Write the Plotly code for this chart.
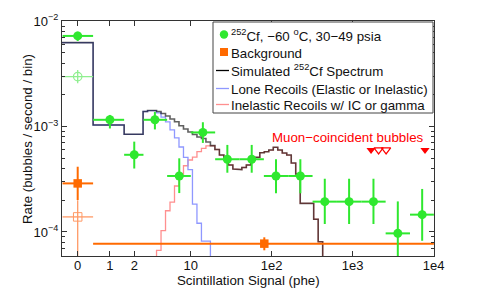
import numpy as np
import plotly.graph_objects as go

# ---------------- data ----------------
ZERO_X = 0.40  # position on the log axis where the "0 phe" bin is drawn

# 252Cf, -60 C, 30-49 psia (filled green)
cf_x = [0, 1, 2, 3.6, 7.2, 14.1, 28.3, 56.6, 113, 226, 453, 905, 1810, 3620, 7240]
cf_lo = [0.26, 0.62, 1.5, 2.6, 5.1, 10, 20, 40, 80, 160, 320, 640, 1280, 2560, 5120]
cf_hi = [0.62, 1.5, 2.6, 5.1, 10, 20, 40, 80, 160, 320, 640, 1280, 2560, 5120, 10100]
cf_rate = [7.25e-3, 1.16e-3, 5.4e-4, 1.16e-3, 3.4e-4, 8.8e-4, 4.9e-4, 4.9e-4,
           3.4e-4, 3.4e-4, 1.94e-4, 1.94e-4, 1.94e-4, 9.7e-5, 1.46e-4]
cf_up = [7.96e-3, 1.29e-3, 7.2e-4, 1.38e-3, 5.0e-4, 1.1e-3, 6.7e-4, 6.7e-4,
         4.9e-4, 4.9e-4, 3.2e-4, 3.2e-4, 3.2e-4, 1.95e-4, 2.56e-4]
cf_dn = [6.5e-3, 9.6e-4, 4.0e-4, 9.4e-4, 2.34e-4, 7.0e-4, 3.65e-4, 3.65e-4,
         2.33e-4, 2.33e-4, 1.19e-4, 1.19e-4, 1.19e-4, 1e-5, 8.25e-5]

# open green point (zero bin)
cf0_rate, cf0_up, cf0_dn = 2.98e-3, 3.45e-3, 2.58e-3

# background (orange)
bg0_rate, bg0_up, bg0_dn = 2.89e-4, 4.16e-4, 2.01e-4
bg0o_rate, bg0o_up, bg0o_dn = 1.39e-4, 2.0e-4, 5e-5
bg_x, bg_lo, bg_hi = 81, 0.62, 10100
bg_rate, bg_up, bg_dn = 7.75e-5, 8.9e-5, 6.7e-5

# muon-coincident bubbles
muon_filled_x = [1690, 7850]
muon_open_x = [2094, 2593]
muon_y = 6.0e-4

# simulated spectra (step histograms)
sim_edges = [0.2, 0.62, 1.5] + list(np.logspace(0.41, 2.63, 41))
sim_total = [6.26e-3, 1.035e-3, 8.45e-4,
             1.39e-3, 1.42e-3, 1.42e-3, 1.39e-3, 1.33e-3, 1.26e-3, 1.18e-3, 1.11e-3, 1.02e-3, 9.5e-4,
             8.9e-4, 8.4e-4, 7.96e-4, 7.7e-4, 7.14e-4, 6.6e-4, 6.06e-4, 5.37e-4, 4.89e-4, 4.32e-4,
             3.96e-4, 3.91e-4, 4.09e-4, 4.32e-4, 4.89e-4, 5.11e-4, 5.65e-4, 5.78e-4, 5.99e-4, 6.36e-4,
             5.99e-4, 5.61e-4, 5.37e-4, 4.51e-4, 3.55e-4, 1.87e-4, 1.87e-4, 1.87e-4, 1.32e-4, 8.07e-5]
sim_lone = [6.26e-3, 1.035e-3, 8.45e-4,
            1.39e-3, 1.42e-3, 1.42e-3, 1.35e-3, 1.23e-3, 1.11e-3, 9.3e-4, 7.8e-4, 6.4e-4, 5.1e-4,
            3.9e-4, 1.84e-4, 1.21e-4, 8.2e-5, 8.2e-5, 0, 0, 0, 0, 0,
            0, 0, 0, 0, 0, 0, 0, 0, 0, 0,
            0, 0, 0, 0, 0, 0, 0, 0, 0, 0]
sim_inel = [0, 0, 0,
            0, 0, 0, 6.7e-5, 1.03e-4, 1.59e-4, 1.92e-4, 2.73e-4, 3.55e-4, 4.25e-4,
            4.82e-4, 5.14e-4, 5.78e-4, 6.22e-4, 6.57e-4, 6.6e-4, 6.06e-4, 5.37e-4, 4.89e-4, 4.32e-4,
            3.96e-4, 3.91e-4, 4.09e-4, 4.32e-4, 4.89e-4, 5.11e-4, 5.65e-4, 5.78e-4, 5.99e-4, 6.36e-4,
            5.99e-4, 5.61e-4, 5.37e-4, 4.51e-4, 3.55e-4, 1.87e-4, 1.87e-4, 1.87e-4, 1.32e-4, 8.07e-5]

x_tickvals = [ZERO_X, 1, 2, 10, 100, 1000, 10000]
x_ticktext = ["0", "1", "2", "10", "1e2", "1e3", "1e4"]
y_tickvals = [1e-4, 1e-3, 1e-2]
y_ticktext = ["10<sup>\u22124</sup>", "10<sup>\u22123</sup>", "10<sup>\u22122</sup>"]

# ---------------- styling ----------------
FONT = "Liberation Sans, Arial, Helvetica, sans-serif"
GREEN = "#2fe82f"
LGREEN = "#8fef8f"
ORANGE = "#ff6a00"
LORANGE = "#ff9a66"
FLOOR = 1e-7
PAGE_W, PAGE_H = 479, 288
BODY = 8                      # default page margin around the plot div
W, H = PAGE_W - BODY, PAGE_H - BODY
L, R, T, B = 62, 434, 21, 256  # plot area in page pixels


def xpos(v):
    return ZERO_X if v == 0 else v


def step_vertices(edges, vals):
    xs, ys = [], []
    for i, v in enumerate(vals):
        v = v if v > 0 else FLOOR
        xs += [edges[i], edges[i + 1]]
        ys += [v, v]
    xs.append(edges[-1])
    ys.append(FLOOR)
    return xs, ys


def px(xp):
    return (xp - L) / (R - L)


def py(yp):
    return (B - yp) / (B - T)


fig = go.Figure()

# simulated curves
xs, ys = step_vertices(sim_edges, sim_inel)
fig.add_trace(go.Scatter(x=xs, y=ys, mode="lines", line=dict(color="#ff8f8f", width=1.3),
                         hoverinfo="skip"))
xs, ys = step_vertices(sim_edges, sim_lone)
fig.add_trace(go.Scatter(x=xs, y=ys, mode="lines", line=dict(color="#8f98ff", width=1.3),
                         hoverinfo="skip"))
xs, ys = step_vertices(sim_edges, sim_total)
fig.add_trace(go.Scatter(x=xs, y=ys, mode="lines", line=dict(color="#000000", width=1.6),
                         opacity=0.62, hoverinfo="skip"))

# background horizontal line point
fig.add_trace(go.Scatter(
    x=[bg_x], y=[bg_rate], mode="markers",
    marker=dict(symbol="square", size=8.5, color=ORANGE),
    error_x=dict(type="data", symmetric=False, array=[bg_hi - bg_x], arrayminus=[bg_x - bg_lo],
                 color=ORANGE, thickness=2, width=0),
    error_y=dict(type="data", symmetric=False, array=[bg_up - bg_rate], arrayminus=[bg_rate - bg_dn],
                 color=ORANGE, thickness=2, width=0)))

# open orange square (zero bin)
x0 = xpos(0)
fig.add_trace(go.Scatter(
    x=[x0], y=[bg0o_rate], mode="markers",
    marker=dict(symbol="square-open", size=8.5, color=LORANGE, line=dict(width=1)),
    error_x=dict(type="data", symmetric=False, array=[0.62 - x0], arrayminus=[x0 - 0.26],
                 color=LORANGE, thickness=1.3, width=0),
    error_y=dict(type="data", symmetric=False, array=[bg0o_up - bg0o_rate],
                 arrayminus=[bg0o_rate - bg0o_dn], color=LORANGE, thickness=1.3, width=0)))

# filled orange square (zero bin)
fig.add_trace(go.Scatter(
    x=[x0], y=[bg0_rate], mode="markers",
    marker=dict(symbol="square", size=8.5, color=ORANGE),
    error_x=dict(type="data", symmetric=False, array=[0.62 - x0], arrayminus=[x0 - 0.26],
                 color=ORANGE, thickness=2, width=0),
    error_y=dict(type="data", symmetric=False, array=[bg0_up - bg0_rate],
                 arrayminus=[bg0_rate - bg0_dn], color=ORANGE, thickness=2, width=0)))

# open green circle (zero bin)
fig.add_trace(go.Scatter(
    x=[x0], y=[cf0_rate], mode="markers",
    marker=dict(symbol="circle-open", size=8.5, color=LGREEN, line=dict(width=1.2)),
    error_x=dict(type="data", symmetric=False, array=[0.62 - x0], arrayminus=[x0 - 0.26],
                 color=LGREEN, thickness=1.3, width=0),
    error_y=dict(type="data", symmetric=False, array=[cf0_up - cf0_rate],
                 arrayminus=[cf0_rate - cf0_dn], color=LGREEN, thickness=1.3, width=0)))

# filled green points
gx = [xpos(v) for v in cf_x]
fig.add_trace(go.Scatter(
    x=gx, y=cf_rate, mode="markers",
    marker=dict(symbol="circle", size=9, color=GREEN),
    error_x=dict(type="data", symmetric=False,
                 array=[h - x for h, x in zip(cf_hi, gx)],
                 arrayminus=[x - l for x, l in zip(gx, cf_lo)],
                 color=GREEN, thickness=2, width=0),
    error_y=dict(type="data", symmetric=False,
                 array=[u - r for u, r in zip(cf_up, cf_rate)],
                 arrayminus=[r - d for r, d in zip(cf_rate, cf_dn)],
                 color=GREEN, thickness=2, width=0)))

# muon-coincident triangles
fig.add_trace(go.Scatter(x=muon_filled_x, y=[muon_y] * len(muon_filled_x), mode="markers",
                         marker=dict(symbol="triangle-down", size=8, color="#ff0000")))
fig.add_trace(go.Scatter(x=muon_open_x, y=[muon_y] * len(muon_open_x), mode="markers",
                         marker=dict(symbol="triangle-down-open", size=8, color="#ff0000",
                                     line=dict(width=1.2))))

# ---------------- custom legend ----------------
shapes = [dict(type="rect", xref="paper", yref="paper", x0=px(213), x1=px(433), y0=py(113), y1=py(22),
               line=dict(color="#444", width=1), fillcolor="white", layer="above")]
shapes.append(dict(type="circle", xref="paper", yref="paper", x0=px(219.8), x1=px(228.2),
                   y0=py(38.7), y1=py(30.3), fillcolor=GREEN, line=dict(width=0), layer="above"))
shapes.append(dict(type="rect", xref="paper", yref="paper", x0=px(220), x1=px(228),
                   y0=py(56), y1=py(48), fillcolor=ORANGE, line=dict(width=0), layer="above"))
for yy, col in [(70.5, "#000000"), (88.5, "#8f98ff"), (104.5, "#ff8f8f")]:
    shapes.append(dict(type="line", xref="paper", yref="paper", x0=px(216), x1=px(229),
                       y0=py(yy), y1=py(yy), line=dict(color=col, width=1.3), layer="above"))

leg_texts = ["<sup>252</sup>Cf, \u221260 <sup>o</sup>C, 30\u221249 psia",
             "Background",
             "Simulated <sup>252</sup>Cf Spectrum",
             "Lone Recoils (Elastic or Inelastic)",
             "Inelastic Recoils w/ IC or gamma"]
leg_y = [35.5, 53.5, 71, 89.5, 106]
annotations = []
for t, yy in zip(leg_texts, leg_y):
    annotations.append(dict(text=t, xref="paper", yref="paper", x=px(228.5), y=py(yy),
                            xanchor="left", yanchor="middle", showarrow=False,
                            font=dict(family=FONT, size=13.3, color="#111")))

annotations.append(dict(text="Muon\u2212coincident bubbles", xref="x", yref="y",
                        x=np.log10(8150), y=np.log10(7.9e-4), xanchor="right", yanchor="middle",
                        showarrow=False, font=dict(family=FONT, size=13.3, color="#ff0000")))
annotations.append(dict(text="Scintillation Signal (phe)", xref="paper", yref="paper",
                        x=px(248), y=py(280.5), xanchor="center", yanchor="middle", showarrow=False,
                        font=dict(family=FONT, size=13.3, color="#111")))
annotations.append(dict(text="Rate (bubbles / second / bin)", xref="paper", yref="paper",
                        x=px(27), y=py(139), xanchor="center", yanchor="middle", textangle=-90,
                        showarrow=False, font=dict(family=FONT, size=13.3, color="#111")))

minor_y = [k * 10.0 ** e for e in (-5, -4, -3) for k in range(2, 10)]

fig.update_layout(
    width=W, height=H,
    margin=dict(l=L - BODY, r=PAGE_W - R, t=T - BODY, b=PAGE_H - B, pad=0, autoexpand=False),
    paper_bgcolor="white", plot_bgcolor="white",
    showlegend=False,
    shapes=shapes, annotations=annotations,
    font=dict(family=FONT, size=12.5, color="#111"),
    xaxis=dict(type="log", range=[-0.592, 4.006], tickmode="array",
               tickvals=x_tickvals, ticktext=x_ticktext, automargin=False,
               ticks="inside", ticklen=5, tickcolor="#333", showline=True, linecolor="#333",
               linewidth=1, mirror="ticks", showgrid=False, zeroline=False,
               ticklabelstandoff=-3,
               tickfont=dict(family=FONT, size=13, color="#111")),
    yaxis=dict(type="log", range=[-4.228, -1.998], tickmode="array",
               tickvals=y_tickvals, ticktext=y_ticktext, automargin=False,
               ticks="inside", ticklen=5, tickcolor="#333", showline=True, linecolor="#333",
               linewidth=1, mirror="ticks", showgrid=False, zeroline=False,
               tickfont=dict(family=FONT, size=13, color="#111"),
               minor=dict(tickmode="array", tickvals=minor_y, ticks="inside", ticklen=3,
                          tickcolor="#333", showgrid=False)),
)

fig.write_html("out.html")
